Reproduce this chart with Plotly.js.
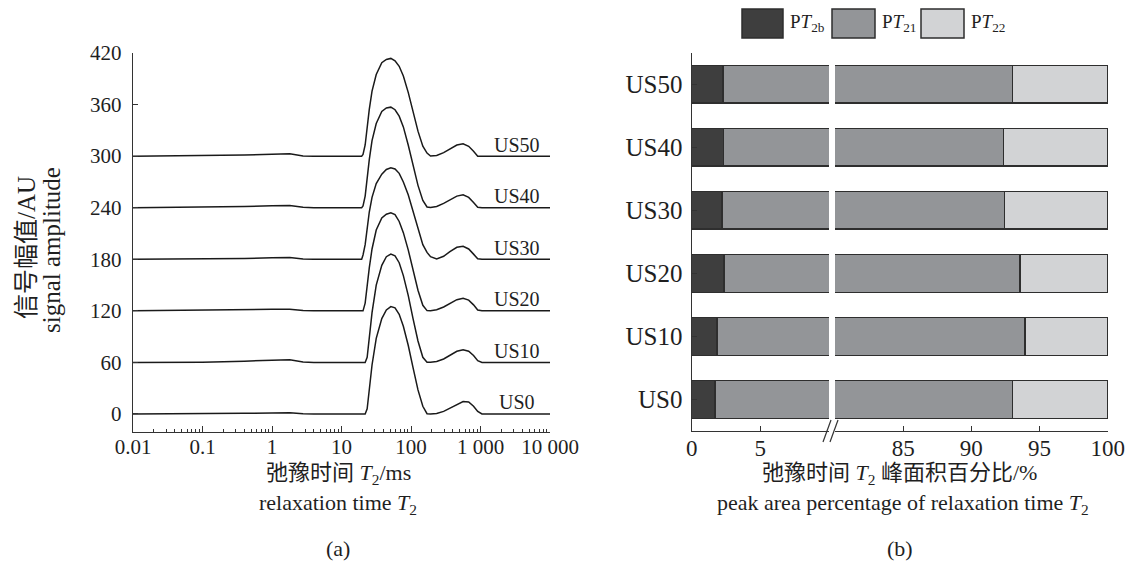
<!DOCTYPE html>
<html>
<head>
<meta charset="utf-8">
<script src="https://cdn.plot.ly/plotly-3.0.1.min.js"></script>
<style>html,body{margin:0;padding:0;background:#fff;}#chart{width:1129px;height:576px;}</style>
</head>
<body>
<div id="chart"></div>
<script>
// ---------- Data: panel (a) T2 spectra ----------
const T2_ms = [0.01,0.1,0.4,1,1.8,2.8,4,
  19.5,20.4,21.9,23.4,25.1,27.5,31.6,38.0,
  44.2,51.3,58.9,67.6,77.6,91.2,107,126,148,170,191,
  234,295,363,457,562,676,794,912,1050,
  3160,10000];
const curveNames = ['US0','US10','US20','US30','US40','US50'];
const curveOffsets = [0,60,120,180,240,300];
const amp_US0  = [0,0.2,0.8,1.3,1.5,0.3,0, 0,0,0,6,30,57,88,111, 121,125,123.5,116,102,80,54,28,9,0.3,0, 0.5,3,7,11.5,14.5,14,9,3,0, 0,0];
const amp_US10 = [0,0.3,1.5,2.8,3,0.5,0, 0,0,0,6,30,58,90,113, 123,126,124,116,101,78,51,25,6,0.2,0.3, 1,4,8.5,13,14.7,13,8,2,0, 0,0];
const amp_US20 = [0,0.5,1,1.8,2,0.3,0, 0,0,9,30,50,72,94,108, 112.5,114,112,104,91,71,47,24,6.5,0.3,0.2, 1.2,4.5,9,13,14.5,12.5,7,1,0, 0,0];
const amp_US30 = [0,0.4,1,1.8,2,0.3,0, 0,5,17,37,55,72,88,99, 104.5,106.4,105,100,90,75,55,34,17,8,3, 0.5,3.5,9,14,15.2,12,6,0.5,0, 0,0];
const amp_US40 = [0,0.5,1.3,2.3,2.7,0.5,0, 0,2,13.5,36,56,78,98,112, 116,117,114,106.5,94,73,49,26,8.5,0.8,0.3, 1.5,5,9.5,13.5,15,12,6,0.5,0, 0,0];
const amp_US50 = [0,0.5,1.3,2.3,2.7,0.3,0, 0,2,13,35,54.5,75.6,95,108.8, 112.5,113.7,111,104.5,93.2,74.2,51.8,29.1,11.6,3.5,0.1, 0.8,4.1,8.5,12.9,14.4,11.4,5.6,0,0, 0,0];
const curveAmps = [amp_US0, amp_US10, amp_US20, amp_US30, amp_US40, amp_US50];
const xTickVals = [0.01,0.1,1,10,100,1000,10000];
const xTickText = ['0.01','0.1','1','10','100','1 000','10 000'];
const yTickVals = [0,60,120,180,240,300,360,420];

// ---------- Data: panel (b) peak area percentages ----------
const samples = ['US0','US10','US20','US30','US40','US50'];
const PT2b = [1.68,1.83,2.34,2.22,2.31,2.27];
const PT21 = [91.32,92.09,91.24,90.22,90.03,90.73];
const PT22 = [7.00,6.08,6.42,7.56,7.66,7.00];
const seriesNames = ['P<i>T</i><sub>2b</sub>','P<i>T</i><sub>21</sub>','P<i>T</i><sub>22</sub>'];
const seriesColors = ['#3e3e3e','#939598','#d2d3d5'];
const xTicksLeft = [0,5];
const xTicksRight = [85,90,95,100];

// ---------- Layout helpers ----------
const W = 1129, H = 576;
const fx = v => v / W;
const fy = v => 1 - v / H;
const FONT = 'Liberation Serif, "Times New Roman", "Noto Sans CJK SC", serif';
const INK = '#1f1f1f';
const fontA = {family: FONT, size: 21, color: INK};
const fontB = {family: FONT, size: 25, color: INK};
const fontBx = {family: FONT, size: 23, color: INK};
const fontTitle = {family: FONT, size: 22, color: INK};

const traces = [];
curveAmps.forEach((a, i) => {
  traces.push({
    type: 'scatter', mode: 'lines', xaxis: 'x', yaxis: 'y',
    x: T2_ms, y: a.map(v => v + curveOffsets[i]),
    line: {color: '#1a1a1a', width: 1.5}, showlegend: false, hoverinfo: 'skip'
  });
});
const barSeries = [PT2b, PT21, PT22];
['x2','x3'].forEach(xa => {
  barSeries.forEach((s, k) => {
    traces.push({
      type: 'bar', orientation: 'h', xaxis: xa, yaxis: 'y2',
      y: samples, x: s, name: seriesNames[k], width: 0.6,
      marker: {color: seriesColors[k], line: {color: '#2e2e2e', width: 1.5}},
      showlegend: false, hoverinfo: 'skip'
    });
  });
});

const minorVals = [];
for (let d = -2; d < 4; d++) for (let k = 2; k <= 9; k++) minorVals.push(k * Math.pow(10, d));

const annotations = [];
curveNames.forEach((n, i) => {
  annotations.push({xref: 'x', yref: 'y', x: Math.log10(3400), y: curveOffsets[i] + 13.5,
    text: n, showarrow: false, font: {family: FONT, size: 20, color: INK}, xanchor: 'center', yanchor: 'middle'});
});
function pa(x, y, text, opts) {
  return Object.assign({xref: 'paper', yref: 'paper', x: fx(x), y: fy(y), text: text,
    showarrow: false, font: fontTitle, xanchor: 'center', yanchor: 'middle'}, opts || {});
}
const yTitleFont = {family: FONT, size: 25, color: INK};
annotations.push(pa(26, 248, '信号幅值/AU', {textangle: -90, font: yTitleFont}));
annotations.push(pa(51, 250, 'signal amplitude', {textangle: -90, font: yTitleFont}));
annotations.push(pa(338, 474, '弛豫时间 <i>T</i><sub>2</sub>/ms'));
annotations.push(pa(338, 504, 'relaxation time <i>T</i><sub>2</sub>'));
annotations.push(pa(338, 548, '(a)'));
annotations.push(pa(900, 474, '弛豫时间 <i>T</i><sub>2</sub> 峰面积百分比/%'));
annotations.push(pa(903, 504, 'peak area percentage of relaxation time <i>T</i><sub>2</sub>'));
annotations.push(pa(900, 548, '(b)'));

// legend (drawn manually with large swatches)
const legendBoxes = [[742,783],[832,875],[921,964]];
const shapes = [];
legendBoxes.forEach((b, k) => {
  shapes.push({type: 'rect', xref: 'paper', yref: 'paper', x0: fx(b[0]), x1: fx(b[1]), y0: fy(38), y1: fy(9),
    fillcolor: seriesColors[k], line: {color: '#2e2e2e', width: 1.5}});
  annotations.push(pa(b[1] + 5, 23, seriesNames[k], {xanchor: 'left', font: {family: FONT, size: 19, color: INK}}));
});
// axis break marks
shapes.push({type: 'line', xref: 'paper', yref: 'paper', x0: fx(823), y0: fy(442), x1: fx(831), y1: fy(420), line: {color: '#333', width: 1.2}});
shapes.push({type: 'line', xref: 'paper', yref: 'paper', x0: fx(830), y0: fy(442), x1: fx(838), y1: fy(420), line: {color: '#333', width: 1.2}});

const axBase = {showline: true, linecolor: '#333', linewidth: 1.2, ticks: 'inside', tickcolor: '#333',
  tickwidth: 1, showgrid: false, zeroline: false, fixedrange: true};

const layout = {
  width: W, height: H, margin: {l: 0, r: 0, t: 0, b: 0},
  paper_bgcolor: '#fff', plot_bgcolor: 'rgba(0,0,0,0)',
  font: {family: FONT, color: INK}, barmode: 'stack', showlegend: false,
  xaxis: Object.assign({}, axBase, {domain: [fx(133), fx(550)], type: 'log', range: [-2, 4], anchor: 'y',
    tickmode: 'array', tickvals: xTickVals, ticktext: xTickText, ticklen: 6, ticklabelstandoff: -4, tickfont: fontA,
    minor: {tickmode: 'array', tickvals: minorVals, ticks: 'inside', ticklen: 3, tickcolor: '#333', showgrid: false}}),
  yaxis: Object.assign({}, axBase, {domain: [fy(431.7), fy(53)], range: [-20.6, 420], anchor: 'x',
    tickmode: 'array', tickvals: yTickVals, ticklen: 5, ticklabelstandoff: 6, tickfont: fontA}),
  xaxis2: Object.assign({}, axBase, {domain: [fx(691.7), fx(829)], range: [0, 10], anchor: 'y2',
    tickmode: 'array', tickvals: xTicksLeft, ticklen: 5, ticklabelstandoff: -4, tickfont: fontBx}),
  xaxis3: Object.assign({}, axBase, {domain: [fx(835), fx(1108.4)], range: [80, 100.05], anchor: 'y2',
    tickmode: 'array', tickvals: xTicksRight, ticklen: 5, ticklabelstandoff: -4, tickfont: fontBx}),
  yaxis2: Object.assign({}, axBase, {domain: [fy(431), fy(52.7)], type: 'category', categoryorder: 'array',
    categoryarray: samples, range: [-0.5, 5.5], anchor: 'x2', ticklen: 5, ticklabelstandoff: 3, tickfont: fontB}),
  annotations: annotations,
  shapes: shapes
};

Plotly.newPlot('chart', traces, layout, {staticPlot: true, displayModeBar: false});
</script>
</body>
</html>
